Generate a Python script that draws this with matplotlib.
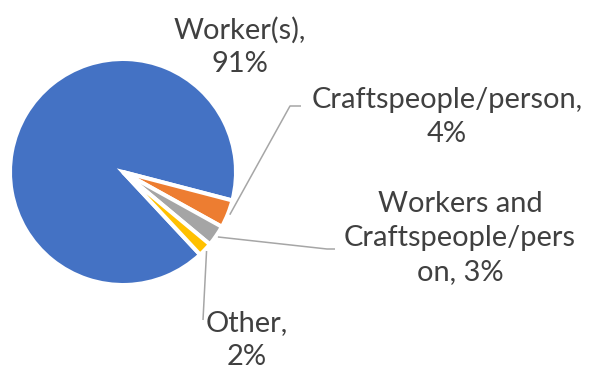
import numpy as np
import matplotlib
matplotlib.use("Agg")
import matplotlib.pyplot as plt

# data
categories = ["Worker(s)", "Craftspeople/person", "Workers and\nCraftspeople/pers\non", "Other"]
shares = [91, 4, 3, 2]
colors = ["#4472C4", "#ED7D31", "#A5A5A5", "#FFC000"]

W, H = 589, 366
TEXT = "#404040"
LINE = "#A6A6A6"

fig = plt.figure(figsize=(W / 100, H / 100), dpi=100)
ax = fig.add_axes([0, 0, 1, 1])

cx, cy, r = 123, H - 172, 113
wedges, _ = ax.pie(shares, colors=colors, startangle=-47, counterclock=False,
                   center=(cx, cy), radius=r, frame=True,
                   wedgeprops=dict(edgecolor="white", linewidth=2.9))
ax.set_xlim(0, W)
ax.set_ylim(0, H)
ax.set_aspect("equal")
ax.axis("off")

plt.rcParams["font.family"] = ["Lato", "DejaVu Sans"]
fs = 20.9

# label block centres (pixel coords, y from top) and leader line elbows
label_pos = [(240, 47), (447, 117), (460, 238), (247, 340)]
elbows = [None, [(290, 106), (301, 106)], [(327, 249), (335, 249)], [(203, 320)]]

for i, (name, pct) in enumerate(zip(categories, shares)):
    lx, ly = label_pos[i]
    ax.text(lx, H - ly, f"{name}, {pct}%" if i == 2 else f"{name},\n{pct}%",
            ha="center", va="center", fontsize=fs, color=TEXT, linespacing=1.38)
    if elbows[i] is None:
        continue
    w = wedges[i]
    mid = np.deg2rad((w.theta1 + w.theta2) / 2)
    sx = cx + (r + 2) * np.cos(mid)
    sy = cy + (r + 2) * np.sin(mid)
    xs = [sx] + [p[0] for p in elbows[i]]
    ys = [sy] + [H - p[1] for p in elbows[i]]
    ax.plot(xs, ys, color=LINE, lw=1.1, solid_capstyle="butt")

fig.savefig("out.png", dpi=100)
